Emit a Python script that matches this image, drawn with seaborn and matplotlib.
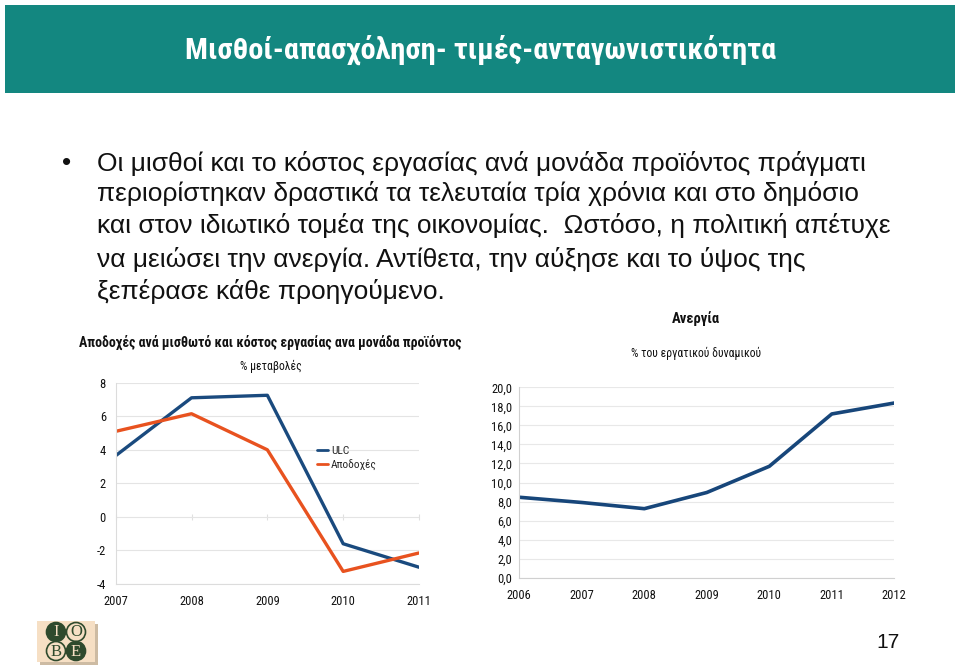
import matplotlib
matplotlib.use("Agg")
import matplotlib.pyplot as plt
import seaborn as sns
import pandas as pd
from matplotlib.patches import Rectangle, Circle

# ---------------- data ----------------
wage_years = [2007, 2008, 2009, 2010, 2011]
ulc_values = [3.65, 7.1, 7.25, -1.6, -3.0]
wage_values = [5.1, 6.15, 4.0, -3.25, -2.15]
wage_series = ["ULC", "Αποδοχές"]
wage_yticks = [-4, -2, 0, 2, 4, 6, 8]

unemp_years = [2006, 2007, 2008, 2009, 2010, 2011, 2012]
unemp_values = [8.45, 7.9, 7.25, 8.95, 11.7, 17.2, 18.35]
unemp_yticks = [0, 2, 4, 6, 8, 10, 12, 14, 16, 18, 20]

slide_title = "Μισθοί-απασχόληση- τιμές-ανταγωνιστικότητα"
bullet_lines = [
    "Οι μισθοί και το κόστος εργασίας ανά μονάδα προϊόντος πράγματι",
    "περιορίστηκαν δραστικά τα τελευταία τρία χρόνια και στο δημόσιο",
    "και στον ιδιωτικό τομέα της οικονομίας.  Ωστόσο, η πολιτική απέτυχε",
    "να μειώσει την ανεργία. Αντίθετα, την αύξησε και το ύψος της",
    "ξεπέρασε κάθε προηγούμενο.",
]
left_title = "Αποδοχές ανά μισθωτό και κόστος εργασίας ανα μονάδα προϊόντος"
left_sub = "% μεταβολές"
right_title = "Ανεργία"
right_sub = "% του εργατικού δυναμικού"
page_no = "17"

# ---------------- style ----------------
sns.set_theme(style="white")
narrow = ["Roboto Condensed", "DejaVu Sans"]
regular = ["Liberation Sans", "DejaVu Sans"]
plt.rcParams["font.family"] = narrow

W, H = 960, 666
fig = plt.figure(figsize=(W / 100, H / 100), dpi=100)
fig.patch.set_facecolor("white")

bg = fig.add_axes([0, 0, 1, 1])
bg.set_xlim(0, W)
bg.set_ylim(H, 0)
bg.axis("off")

bg.add_patch(Rectangle((5, 5), 950, 88, facecolor="#138780", edgecolor="none"))
bg.text(481, 50, slide_title, color="white", fontsize=21.8, fontweight="bold",
        ha="center", va="center", family=narrow)

bg.text(67, 163, "•", fontsize=19, ha="center", va="center", color="#111111", family=regular)
line_y = [163, 194, 226, 259, 291]
for yy, txt in zip(line_y, bullet_lines):
    bg.text(97, yy, txt, fontsize=19, ha="left", va="center", color="#111111", family=regular)

# logo
bg.add_patch(Rectangle((40, 624), 58, 41, facecolor="#cdbba3", edgecolor="none"))
bg.add_patch(Rectangle((37, 621), 58, 41, facecolor="#f6dfc4", edgecolor="none"))
green = "#2f4a2d"
for (cx, cy, letter, filled) in [(56, 632, "I", True), (76, 632, "O", False),
                                 (56, 651, "B", False), (76, 651, "E", True)]:
    bg.add_patch(Circle((cx, cy), 9.5, facecolor=green if filled else "#f6dfc4",
                        edgecolor=green, linewidth=1.2))
    bg.text(cx, cy + 0.5, letter, fontsize=12, ha="center", va="center",
            color="#f6dfc4" if filled else green, family=["Liberation Serif", "DejaVu Serif"])

bg.text(888, 643, page_no, fontsize=15, ha="center", va="center", color="#111111", family=regular)

def px_axes(x0, y0, x1, y1):
    return fig.add_axes([x0 / W, 1 - y1 / H, (x1 - x0) / W, (y1 - y0) / H])

# ---------------- left chart ----------------
axL = px_axes(115.7, 382.7, 419, 584)
dfL = pd.DataFrame({
    "year": wage_years * 2,
    "value": ulc_values + wage_values,
    "series": [wage_series[0]] * len(wage_years) + [wage_series[1]] * len(wage_years),
})
sns.lineplot(data=dfL, x="year", y="value", hue="series", ax=axL,
             palette={"ULC": "#1a4a7e", "Αποδοχές": "#e8521f"}, linewidth=2.4)
axL.set_facecolor("none")
ymin, ymax = min(wage_yticks), max(wage_yticks)
axL.set_xlim(wage_years[0], wage_years[-1])
axL.set_ylim(ymin, ymax)
axL.set_xticks(wage_years)
axL.set_xticklabels([str(y) for y in wage_years])
axL.set_yticks(wage_yticks)
axL.set_yticklabels([str(v) for v in wage_yticks])
axL.set_xlabel("")
axL.set_ylabel("")
axL.grid(axis="y", color="#e4e4e4", linewidth=0.8)
axL.set_axisbelow(True)
for s in ["top", "right"]:
    axL.spines[s].set_visible(False)
for s in ["left", "bottom"]:
    axL.spines[s].set_color("#dcdcdc")
    axL.spines[s].set_linewidth(0.8)
axL.tick_params(axis="both", labelsize=9, colors="#dcdcdc", labelcolor="#111111")
axL.tick_params(axis="x", length=3, width=0.8, direction="out", pad=5)
axL.tick_params(axis="y", length=0, pad=7)
# faint category tick marks where the zero line crosses
zero_ax = axL.secondary_xaxis((0 - ymin) / (ymax - ymin))
zero_ax.set_xticks(wage_years)
zero_ax.tick_params(axis="x", direction="inout", length=5, width=0.8, colors="#e0e0e0",
                    labelbottom=False, labeltop=False)
zero_ax.spines["bottom"].set_visible(False)
zero_ax.spines["top"].set_visible(False)

leg = axL.legend(loc="upper left", bbox_to_anchor=(0.665, 0.685), frameon=False,
                 handlelength=0.9, handletextpad=0.3, labelspacing=0.3,
                 borderpad=0, borderaxespad=0, fontsize=8.2)
for h in leg.get_lines():
    h.set_linewidth(2.0)

fig.text(270 / W, 1 - 342.5 / H, left_title, fontsize=10, fontweight="bold",
         ha="center", va="center", color="#111111")
fig.text(271 / W, 1 - 366 / H, left_sub, fontsize=8.5, ha="center", va="center", color="#111111")

# ---------------- right chart ----------------
axR = px_axes(519.3, 387.3, 894.3, 577.7)
dfR = pd.DataFrame({"year": unemp_years, "value": unemp_values})
sns.lineplot(data=dfR, x="year", y="value", ax=axR, color="#17467a", linewidth=2.6)
axR.set_facecolor("none")
axR.set_xlim(unemp_years[0], unemp_years[-1])
axR.set_ylim(min(unemp_yticks), max(unemp_yticks))
axR.set_xticks(unemp_years)
axR.set_xticklabels([str(y) for y in unemp_years])
axR.set_yticks(unemp_yticks)
axR.set_yticklabels([f"{v:.1f}".replace(".", ",") for v in unemp_yticks])
axR.set_xlabel("")
axR.set_ylabel("")
axR.grid(axis="y", color="#e8e8e8", linewidth=0.8)
axR.set_axisbelow(True)
for s in ["top", "right"]:
    axR.spines[s].set_visible(False)
for s in ["left", "bottom"]:
    axR.spines[s].set_color("#d0d0d0")
    axR.spines[s].set_linewidth(0.8)
axR.tick_params(axis="both", labelsize=9, colors="#d0d0d0", labelcolor="#111111")
axR.tick_params(axis="x", length=4, width=0.8, direction="out", pad=4)
axR.tick_params(axis="y", length=3, width=0.8, direction="out", pad=2)

fig.text(696 / W, 1 - 319 / H, right_title, fontsize=10.5, fontweight="bold",
         ha="center", va="center", color="#111111")
fig.text(696 / W, 1 - 353 / H, right_sub, fontsize=8.5, ha="center", va="center", color="#111111")

fig.savefig("out.png", dpi=100, facecolor="white")
